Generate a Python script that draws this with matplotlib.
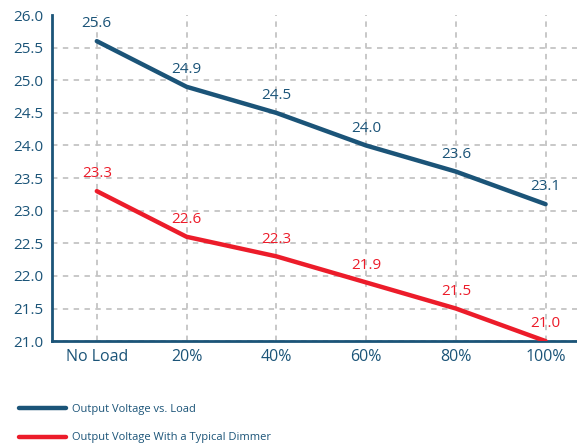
import numpy as np
from matplotlib import pyplot as plt

plt.rcParams['font.family'] = ['Open Sans', 'DejaVu Sans']

categories = ["No Load", "20%", "40%", "60%", "80%", "100%"]
load_voltage = [25.6, 24.9, 24.5, 24.0, 23.6, 23.1]
dimmer_voltage = [23.3, 22.6, 22.3, 21.9, 21.5, 21.0]
y_ticks = [21.0, 21.5, 22.0, 22.5, 23.0, 23.5, 24.0, 24.5, 25.0, 25.5, 26.0]

blue = '#1b5478'
red = '#ec1c2a'


def main():
    fig = plt.figure(figsize=(5.77, 4.43), dpi=100)
    ax = fig.add_axes([0.090, 0.230, 0.910, 0.736])
    x = np.arange(len(categories))

    ax.plot(x, load_voltage, color=blue, lw=3.2, solid_capstyle='round',
            label='Output Voltage vs. Load', zorder=3)
    ax.plot(x, dimmer_voltage, color=red, lw=3.2, solid_capstyle='round',
            label='Output Voltage With a Typical Dimmer', zorder=3)

    for xi, v in zip(x, load_voltage):
        ax.annotate(f"{v:.1f}", (xi, v), xytext=(0, 7), textcoords='offset points',
                    ha='center', va='bottom', color=blue, fontsize=11)
    for xi, v in zip(x, dimmer_voltage):
        ax.annotate(f"{v:.1f}", (xi, v), xytext=(0, 7), textcoords='offset points',
                    ha='center', va='bottom', color=red, fontsize=11)

    ax.set_xlim(-0.5, 5.35)
    ax.set_ylim(21.0, 26.0)
    ax.set_xticks(x)
    ax.set_xticklabels(categories, fontsize=11.5, color=blue)
    ax.set_yticks(y_ticks)
    ax.set_yticklabels([f"{t:.1f}" for t in y_ticks], fontsize=11, color=blue)
    ax.tick_params(length=0, pad=6)

    ax.grid(True, color='#c4c4c4', linestyle=(0, (3, 3)), lw=1.3)
    ax.get_ygridlines()[-1].set_visible(False)
    for s in ['top', 'right']:
        ax.spines[s].set_visible(False)
    for s in ['left', 'bottom']:
        ax.spines[s].set_color(blue)
        ax.spines[s].set_linewidth(2)

    fig.legend(loc='upper left', bbox_to_anchor=(0.024, 0.1), frameon=False,
               fontsize=8, labelcolor=blue, handlelength=4.2, handletextpad=0.5,
               labelspacing=1.55, borderpad=0)

    fig.savefig('out.png', dpi=100)


if __name__ == "__main__":
    main()
